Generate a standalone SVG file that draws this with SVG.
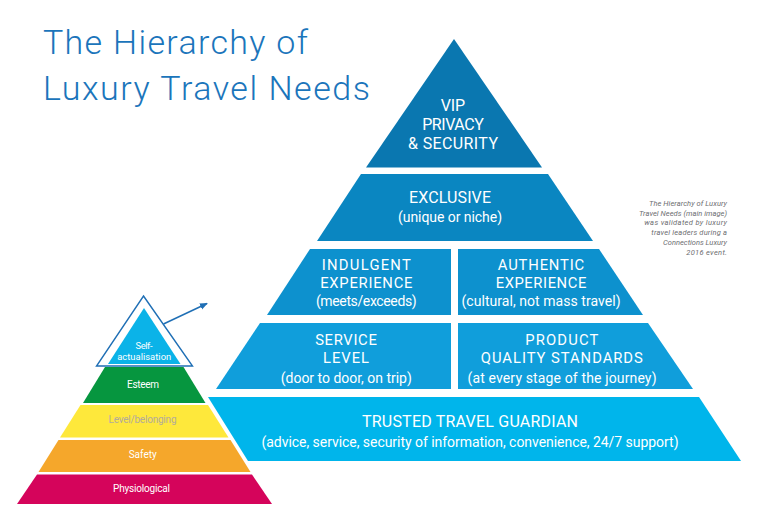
<svg xmlns="http://www.w3.org/2000/svg" width="759" height="526" viewBox="0 0 759 526">
<defs>
<style>
.t{font-family:Roboto,"Liberation Sans",Arial,sans-serif;fill:#fff;text-anchor:middle}
.h{font-size:16px}
.h2{font-size:14.8px}
.s{font-size:14px}
.m{font-size:10px}
.m2{font-size:9.4px}
.title{font-family:Roboto,"Liberation Sans",Arial,sans-serif;font-weight:300;font-size:34px;fill:#1b75bb}
.cap{font-family:Roboto,"Liberation Sans",Arial,sans-serif;font-style:italic;font-size:7.5px;fill:#6d6e71;text-anchor:end}
.conn{stroke:#1f6fb5;stroke-width:1.5;fill:none}
</style>
<marker id="ah" markerWidth="8" markerHeight="8" refX="7" refY="4" orient="auto" markerUnits="userSpaceOnUse">
<path d="M0,0.8 L8,4 L0,7.2 z" fill="#1f6fb5"/>
</marker>
</defs>
<rect width="759" height="526" fill="#fff"/>

<g id="title">
<text class="title" x="43" y="54" textLength="265">The Hierarchy of</text>
<text class="title" x="43" y="100" textLength="327">Luxury Travel Needs</text>
</g>

<g id="caption">
<text class="cap" x="727" y="206" textLength="78">The Hierarchy of Luxury</text>
<text class="cap" x="727" y="215.7" textLength="88">Travel Needs (main image)</text>
<text class="cap" x="727" y="225.4" textLength="82.7">was validated by luxury</text>
<text class="cap" x="727" y="235.1" textLength="75.7">travel leaders during a</text>
<text class="cap" x="727" y="244.8" textLength="64">Connections Luxury</text>
<text class="cap" x="727" y="254.5" textLength="40.7">2016 event.</text>
</g>

<g id="vip">
<polygon points="454,39 542,167.5 366,167.5" fill="#0a77b0"/>
<text class="t h" x="453" y="111" textLength="24.3">VIP</text>
<text class="t h" x="453" y="130" textLength="61.7">PRIVACY</text>
<text class="t h" x="453" y="149" textLength="90">&amp; SECURITY</text>
</g>

<g id="exclusive">
<polygon points="361,174 548,174 593,241 317,241" fill="#0a86c1"/>
<text class="t h" x="450" y="203.3" textLength="82">EXCLUSIVE</text>
<text class="t s" x="450" y="222" textLength="104">(unique or niche)</text>
</g>

<g id="indulgent">
<polygon points="310,249 451,249 451,315 267,315" fill="#0d91ce"/>
<text class="t h2" x="366.3" y="270.3" textLength="89">INDULGENT</text>
<text class="t h2" x="366.3" y="287.8" textLength="92.3">EXPERIENCE</text>
<text class="t s" x="366.3" y="305.5" textLength="100.7">(meets/exceeds)</text>
</g>

<g id="authentic">
<polygon points="458,249 599,249 643,315 458,315" fill="#0d91ce"/>
<text class="t h2" x="541" y="270.3" textLength="86.3">AUTHENTIC</text>
<text class="t h2" x="541" y="287.8" textLength="90.7">EXPERIENCE</text>
<text class="t s" x="541" y="305.5" textLength="159">(cultural, not mass travel)</text>
</g>

<g id="service">
<polygon points="260,323 451,323 451,389 216,389" fill="#109edb"/>
<text class="t h2" x="346" y="345.3" textLength="61.7">SERVICE</text>
<text class="t h2" x="346" y="362.8" textLength="46">LEVEL</text>
<text class="t s" x="346.3" y="383.3" textLength="131">(door to door, on trip)</text>
</g>

<g id="product">
<polygon points="458,323 648,323 693,389 458,389" fill="#109edb"/>
<text class="t h2" x="561.8" y="345.3" textLength="73.3">PRODUCT</text>
<text class="t h2" x="561.8" y="362.8" textLength="162">QUALITY STANDARDS</text>
<text class="t s" x="562" y="383.3" textLength="189">(at every stage of the journey)</text>
</g>

<g id="trusted">
<polygon points="208,397 699,397 741,461 248,461" fill="#00b5eb"/>
<text class="t h" x="470" y="427" textLength="216">TRUSTED TRAVEL GUARDIAN</text>
<text class="t s" x="470" y="447" textLength="417">(advice, service, security of information, convenience, 24/7 support)</text>
</g>

<g id="self-actualisation">
<polygon points="144,308 180.5,364 108,364" fill="#0bb3e8"/>
<polygon points="143.5,296 192.5,366 96.5,366" fill="none" stroke="#1f6fb5" stroke-width="1.4"/>
<text class="t m2" x="144" y="348.5" textLength="17">Self-</text>
<text class="t m2" x="144.2" y="359.6" textLength="54">actualisation</text>
</g>

<g id="esteem">
<polygon points="105,367 183.5,367 205.5,403 83,403" fill="#06963f"/>
<text class="t m" x="143" y="388" textLength="32">Esteem</text>
</g>

<g id="belonging">
<polygon points="80.5,405 208,405 228.5,437.5 60,437.5" fill="#fee83b"/>
<text class="t m" x="142.5" y="423.3" textLength="68" style="fill:#b3ab9b">Level/belonging</text>
</g>

<g id="safety">
<polygon points="58.5,440 230.5,440 250.5,472 38.5,472" fill="#f5a72b"/>
<text class="t m" x="142.7" y="458.3" textLength="28">Safety</text>
</g>

<g id="physiological">
<polygon points="37,474.5 252,474.5 272,504 17,504" fill="#d5045b"/>
<text class="t m" x="141.5" y="491.5" textLength="57">Physiological</text>
</g>

<g id="connectors">
<line class="conn" x1="163.5" y1="324" x2="207" y2="303.5" marker-end="url(#ah)"/>
</g>
</svg>
